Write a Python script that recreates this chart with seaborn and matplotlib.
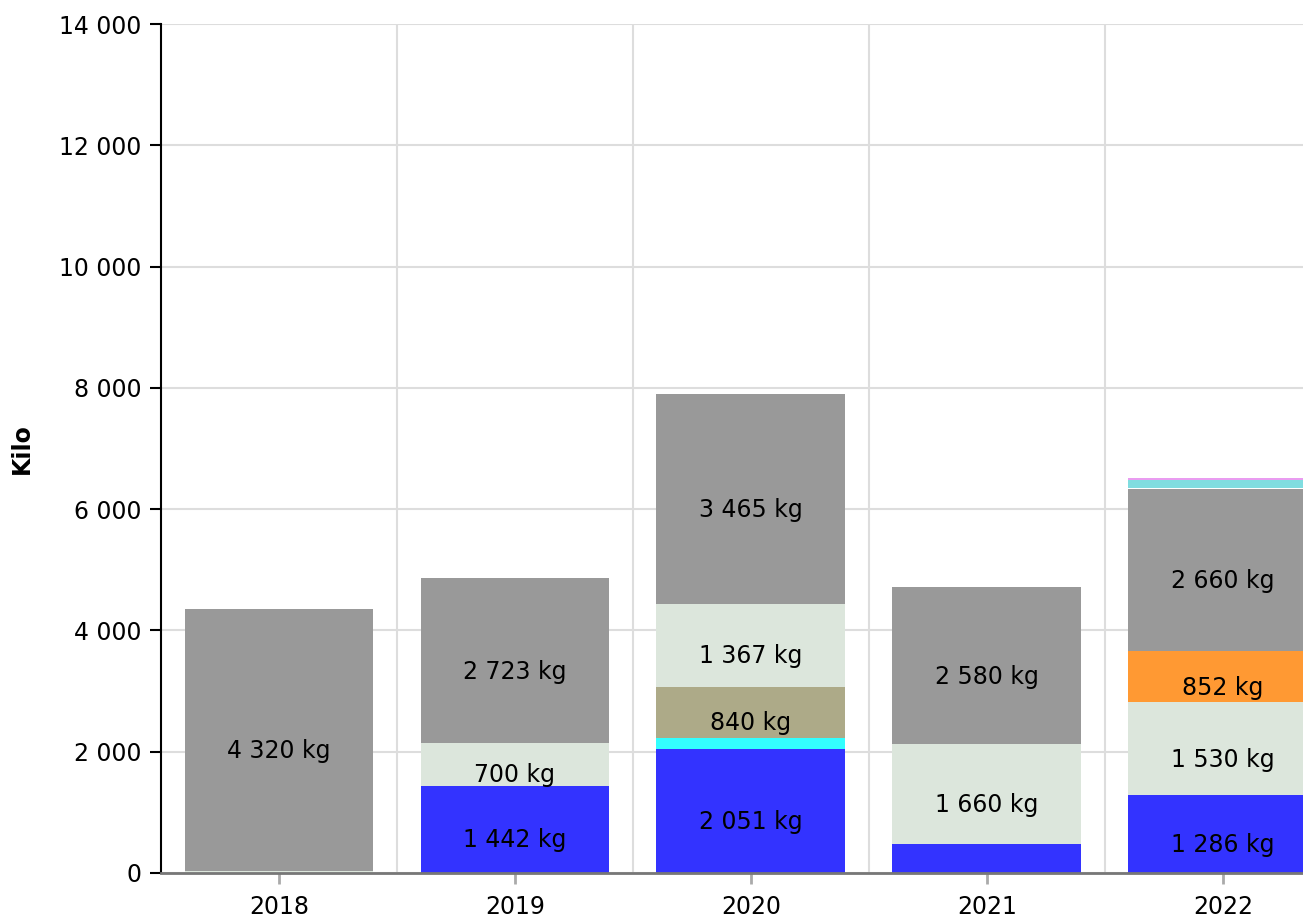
import numpy as np
import pandas as pd
import seaborn as sns
import matplotlib.pyplot as plt
from matplotlib.ticker import FuncFormatter, FixedLocator

years = ["2018", "2019", "2020", "2021", "2022"]

# kg per year, bottom to top of each stack
blue = [0, 1442, 2051, 470, 1286]
cyan = [0, 0, 180, 0, 0]
khaki = [0, 0, 840, 0, 0]
green = [40, 700, 1367, 1660, 1530]
orange = [0, 0, 0, 0, 852]
gray = [4320, 2723, 3465, 2580, 2660]
white = [0, 0, 0, 0, 15]
teal = [0, 0, 0, 0, 130]
pink = [0, 0, 0, 0, 40]

layers = [blue, cyan, khaki, green, orange, gray, white, teal, pink]
colors = ["#3333ff", "#33ffff", "#adaa88", "#dce6dc", "#ff9933",
          "#999999", "#ffffff", "#80dde0", "#e99cf0"]

sns.set_theme(style="white")
plt.rcParams['font.family'] = ['DejaVu Sans']

fig = plt.figure(figsize=(13.03, 9.22), dpi=100)
ax = fig.add_axes([161 / 1303, 1 - 873 / 922, 1 - 161 / 1303, (873 - 24) / 922])

cum = np.cumsum(np.array(layers), axis=0)

# draw tallest cumulative first, lower layers paint over it
for i in range(len(layers) - 1, -1, -1):
    df = pd.DataFrame({"year": years, "kg": cum[i]})
    sns.barplot(data=df, x="year", y="kg", color=colors[i], saturation=1,
                width=0.8, linewidth=0, ax=ax, zorder=2)

fmt = lambda v: f"{int(round(v)):,}".replace(",", " ")

for i, layer in enumerate(layers):
    for j, v in enumerate(layer):
        if v >= 600:
            mid = cum[i][j] - v / 2
            ax.annotate(fmt(v) + " kg", (j, mid), xytext=(0, -8),
                        textcoords="offset points", ha="center", va="center",
                        fontsize=17, color="black", zorder=3)

ax.set_ylim(0, 14000)
ax.set_xlim(-0.5, 4.34)
ax.yaxis.set_major_locator(FixedLocator(np.arange(0, 14001, 2000)))
ax.yaxis.set_major_formatter(FuncFormatter(lambda v, p: fmt(v)))
ax.xaxis.set_minor_locator(FixedLocator([0.5, 1.5, 2.5, 3.5]))

ax.grid(axis="y", which="major", color="#dddddd", linewidth=1.5, zorder=0)
ax.grid(axis="x", which="minor", color="#dddddd", linewidth=1.5, zorder=0)
ax.set_axisbelow(True)

for s in ["top", "right"]:
    ax.spines[s].set_visible(False)
ax.spines["left"].set_color("black")
ax.spines["left"].set_linewidth(1.5)
ax.spines["bottom"].set_color("#777777")
ax.spines["bottom"].set_linewidth(2)
ax.spines["left"].set_zorder(4)
ax.spines["bottom"].set_zorder(4)

ax.tick_params(axis="y", which="major", direction="out", length=8, width=1.5,
               color="black", labelcolor="black", labelsize=17, left=True, pad=6)
ax.tick_params(axis="x", which="major", direction="out", length=8, width=2,
               color="#aaaaaa", labelcolor="black", labelsize=17, bottom=True, pad=8)
ax.tick_params(axis="x", which="minor", length=0)

ax.set_xlabel("")
ax.set_ylabel("Kilo", fontsize=17, fontweight="bold", color="black", labelpad=18)

fig.savefig("out.png", dpi=100)
